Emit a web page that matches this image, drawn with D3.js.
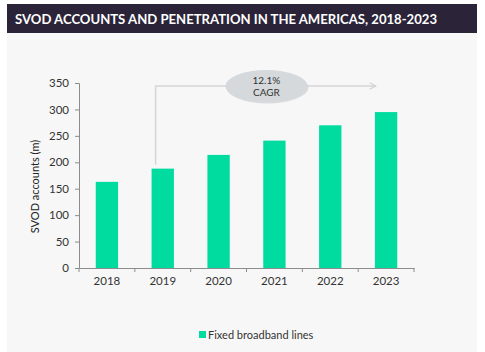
<!DOCTYPE html>
<html>
<head>
<meta charset="utf-8">
<script src="https://cdn.jsdelivr.net/npm/d3@7"></script>
<style>
  body { margin: 0; background: #ffffff; }
  svg { display: block; }
</style>
</head>
<body>
<div id="chart"></div>
<script>
// data
const years = ["2018", "2019", "2020", "2021", "2022", "2023"];
const accounts = [163, 188, 214, 241, 270, 295];
const yTicks = [0, 50, 100, 150, 200, 250, 300, 350];
const seriesName = "Fixed broadband lines";
const titleText = "SVOD ACCOUNTS AND PENETRATION IN THE AMERICAS, 2018-2023";
const cagrLines = ["12.1%", "CAGR"];

const W = 485, H = 352;
const margin = { top: 83, right: 71, bottom: 84, left: 79 };
const width = W - margin.left - margin.right;
const height = H - margin.top - margin.bottom;
const font = "Lato, 'Open Sans', sans-serif";

const svg = d3.select("#chart")
    .append("svg")
    .attr("width", W)
    .attr("height", H);

// panel background
svg.append("rect")
    .attr("x", 7).attr("y", 4)
    .attr("width", 470).attr("height", H - 4)
    .attr("fill", "#f7f7f7");

// title bar
svg.append("rect")
    .attr("x", 7).attr("y", 4)
    .attr("width", 470).attr("height", 29)
    .attr("fill", "#2b2338");
svg.append("text")
    .attr("x", 15).attr("y", 23.5)
    .attr("font-family", font)
    .attr("font-weight", "bold")
    .attr("font-size", "14px")
    .attr("fill", "#ffffff")
    .attr("textLength", 422)
    .attr("lengthAdjust", "spacingAndGlyphs")
    .text(titleText);

const g = svg.append("g")
    .attr("transform", `translate(${margin.left},${margin.top})`);

const x = d3.scaleBand()
    .domain(years)
    .range([0, width])
    .paddingInner(0.6)
    .paddingOuter(0.3);

const y = d3.scaleLinear()
    .domain([0, 350])
    .range([height, 0]);

// y axis
const yAxis = g.append("g")
    .call(d3.axisLeft(y).tickValues(yTicks).tickSize(4).tickPadding(6));
yAxis.selectAll("text")
    .attr("font-family", font)
    .attr("font-size", "11.5px")
    .attr("fill", "#333");
yAxis.selectAll("line, path").attr("stroke", "#8c8c8c");

// x axis, ticks at band boundaries
const xAxis = g.append("g")
    .attr("transform", `translate(0,${height})`)
    .call(d3.axisBottom(x).tickSize(0).tickPadding(9));
xAxis.selectAll("text")
    .attr("font-family", font)
    .attr("font-size", "11.5px")
    .attr("fill", "#333");
xAxis.select(".domain").attr("stroke", "#8c8c8c");
const step = x.step();
xAxis.selectAll(".sep")
    .data(d3.range(years.length + 1))
    .enter()
    .append("line")
    .attr("x1", i => i * step).attr("x2", i => i * step)
    .attr("y1", 0).attr("y2", 4)
    .attr("stroke", "#8c8c8c");

// bars
g.selectAll(".bar")
    .data(years.map((d, i) => ({ year: d, value: accounts[i] })))
    .enter()
    .append("rect")
    .attr("x", d => x(d.year))
    .attr("y", d => y(d.value))
    .attr("width", x.bandwidth())
    .attr("height", d => height - y(d.value))
    .attr("fill", "#00dca0");

// y axis label
g.append("text")
    .attr("transform", "rotate(-90)")
    .attr("x", -height / 2 - 11)
    .attr("y", -40)
    .attr("text-anchor", "middle")
    .attr("font-family", font)
    .attr("font-size", "11px")
    .attr("fill", "#222")
    .text("SVOD accounts (m)");

// CAGR connector
const cx = x("2019") + 4;
const lineY = 3;
const defs = svg.append("defs");
defs.append("marker")
    .attr("id", "arrow")
    .attr("viewBox", "0 0 10 10")
    .attr("refX", 9).attr("refY", 5)
    .attr("markerWidth", 8).attr("markerHeight", 8)
    .attr("orient", "auto")
    .attr("markerUnits", "userSpaceOnUse")
    .append("path")
    .attr("d", "M1,1 L9,5 L1,9")
    .attr("fill", "none")
    .attr("stroke", "#cfcfcf")
    .attr("stroke-width", 1.4);

g.append("path")
    .attr("d", `M${cx},${y(accounts[1]) - 4} V${lineY} H${x("2023") + 1}`)
    .attr("fill", "none")
    .attr("stroke", "#d6d6d6")
    .attr("stroke-width", 1.5)
    .attr("marker-end", "url(#arrow)");

const ex = x("2021") + x.bandwidth() / 2 - 8;
g.append("ellipse")
    .attr("cx", ex + 1).attr("cy", lineY + 1.5)
    .attr("rx", 41).attr("ry", 16)
    .attr("fill", "#c4c8cb")
    .attr("opacity", 0.6);
g.append("ellipse")
    .attr("cx", ex).attr("cy", lineY)
    .attr("rx", 41).attr("ry", 16)
    .attr("fill", "#d5d9dc");
g.selectAll(".cagr")
    .data(cagrLines)
    .enter()
    .append("text")
    .attr("x", ex)
    .attr("y", (d, i) => lineY - 2 + i * 12)
    .attr("text-anchor", "middle")
    .attr("font-family", font)
    .attr("font-size", "10px")
    .attr("fill", "#333")
    .text(d => d);

// legend
const lg = svg.append("g").attr("transform", "translate(199,331)");
lg.append("rect")
    .attr("width", 7).attr("height", 7)
    .attr("fill", "#00dca0");
lg.append("text")
    .attr("x", 9).attr("y", 7.5)
    .attr("font-family", font)
    .attr("font-size", "11px")
    .attr("fill", "#333")
    .text(seriesName);
</script>
</body>
</html>
